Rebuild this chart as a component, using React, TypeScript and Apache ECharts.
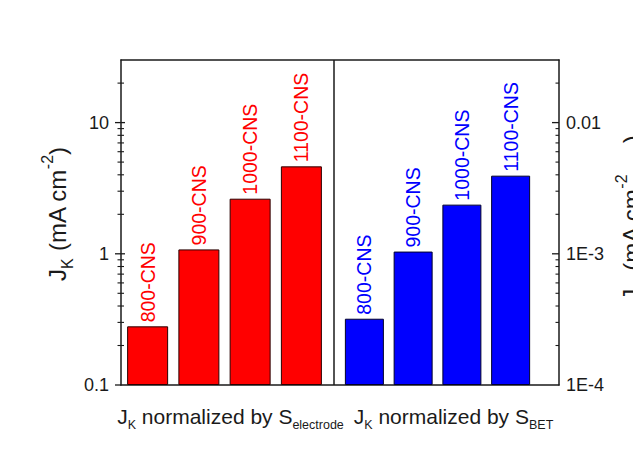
import React, { useEffect, useRef } from "react";
import * as echarts from "echarts";

// Kinetic current density of the carbon nanosheet samples
const samples = ["800-CNS", "900-CNS", "1000-CNS", "1100-CNS"];
const jkElectrode = [0.28, 1.08, 2.63, 4.64]; // mA cm^-2 (electrode area)
const jkBet = [3.2e-4, 1.04e-3, 2.37e-3, 3.94e-3]; // mA cm^-2 (BET area)
const groups = ["electrode", "BET"];
const leftRange = [0.1, 30];
const rightRange = [1e-4, 0.03];
const leftDecades = [0.1, 1, 10];
const rightDecades = [1e-4, 1e-3, 0.01];

const FONT = "'Liberation Sans', Arial, Helvetica, sans-serif";
const INK = "#1a1a1a";
const RED = "#ff0000";
const BLUE = "#0000ff";

const FRAME = { left: 121, right: 559, top: 60, bottom: 385 };
const SPLIT_X = 334;

function decadeLabel(v: number): string {
  const e = Math.round(Math.log10(v));
  const p = Math.pow(10, e);
  if (Math.abs(v - p) > p * 1e-6) return "";
  if (e >= -2) return String(Number(p.toFixed(6)));
  return "1E" + e;
}

function minorValues(decades: number[], max: number): number[] {
  const out: number[] = [];
  decades.forEach((d) => {
    for (let k = 2; k <= 9; k++) {
      const v = Number((k * d).toPrecision(6));
      if (v < max) out.push(v);
    }
  });
  return out;
}

const titleRich = {
  m: { fontSize: 24, lineHeight: 36, fontFamily: FONT, fill: INK },
  sub: { fontSize: 16, lineHeight: 16, verticalAlign: "bottom", fontFamily: FONT, fill: INK },
  sup: { fontSize: 16, lineHeight: 16, verticalAlign: "top", fontFamily: FONT, fill: INK },
};

export default function App() {
  const ref = useRef<HTMLDivElement>(null);

  useEffect(() => {
    if (!ref.current) return;
    const chart = echarts.init(ref.current, undefined, { renderer: "svg" });

    const barLabel = (color: string) => ({
      show: true,
      position: "top",
      rotate: 90,
      align: "left",
      verticalAlign: "middle",
      distance: 4,
      formatter: "{b}",
      fontSize: 19.5,
      fontFamily: FONT,
      color,
    });

    const frameAxisLine = { show: true, lineStyle: { color: INK, width: 1.5 } };

    chart.setOption({
      animation: false,
      backgroundColor: "#ffffff",
      grid: [
        {
          left: FRAME.left,
          top: FRAME.top,
          width: FRAME.right - FRAME.left,
          height: FRAME.bottom - FRAME.top,
          outerBoundsMode: "none",
        },
        { left: 122, top: FRAME.top, width: 205, height: FRAME.bottom - FRAME.top, outerBoundsMode: "none" },
        { left: 340, top: FRAME.top, width: 195, height: FRAME.bottom - FRAME.top, outerBoundsMode: "none" },
      ],
      xAxis: [
        {
          gridIndex: 0,
          type: "category",
          data: [
            { value: groups[0] },
            { value: groups[1], textStyle: { padding: [0, 0, 0, 8] } },
          ],
          position: "bottom",
          axisLine: frameAxisLine,
          axisTick: { show: false },
          axisLabel: {
            interval: 0,
            margin: 16,
            formatter: (v: string) => `{m|J}{s|K}{m| normalized by S}{s|${v}}`,
            rich: {
              m: { fontSize: 21, lineHeight: 30, color: INK, fontFamily: FONT },
              s: { fontSize: 12.5, lineHeight: 9, verticalAlign: "bottom", color: INK, fontFamily: FONT },
            },
          },
        },
        {
          gridIndex: 0,
          type: "category",
          data: groups,
          position: "top",
          axisLine: frameAxisLine,
          axisTick: { show: false },
          axisLabel: { show: false },
        },
        { gridIndex: 1, type: "category", data: samples, show: false },
        { gridIndex: 2, type: "category", data: samples, show: false },
      ],
      yAxis: [
        {
          gridIndex: 0,
          type: "log",
          logBase: 10,
          min: leftRange[0],
          max: leftRange[1],
          position: "left",
          axisLine: frameAxisLine,
          axisTick: { show: false },
          splitLine: { show: false },
          axisLabel: {
            margin: 12,
            fontSize: 18,
            color: INK,
            fontFamily: FONT,
            showMaxLabel: false,
            formatter: (v: number) => decadeLabel(v),
          },
        },
        {
          gridIndex: 0,
          type: "log",
          logBase: 10,
          min: rightRange[0],
          max: rightRange[1],
          position: "right",
          axisLine: frameAxisLine,
          axisTick: { show: false },
          splitLine: { show: false },
          axisLabel: {
            margin: 7,
            fontSize: 18,
            color: INK,
            fontFamily: FONT,
            showMaxLabel: false,
            formatter: (v: number) => decadeLabel(v),
          },
        },
        {
          gridIndex: 1,
          type: "log",
          logBase: 10,
          min: leftRange[0],
          max: leftRange[1],
          startValue: leftRange[0],
          show: false,
        },
        {
          gridIndex: 2,
          type: "log",
          logBase: 10,
          min: rightRange[0],
          max: rightRange[1],
          startValue: rightRange[0],
          show: false,
        },
      ],
      series: [
        {
          type: "bar",
          xAxisIndex: 2,
          yAxisIndex: 2,
          data: jkElectrode,
          barWidth: 41,
          itemStyle: { color: RED, borderColor: "#2a0000", borderWidth: 1 },
          label: barLabel(RED),
        },
        {
          type: "bar",
          xAxisIndex: 3,
          yAxisIndex: 3,
          data: jkBet,
          barWidth: 39,
          itemStyle: { color: BLUE, borderColor: "#00002a", borderWidth: 1 },
          label: barLabel(BLUE),
        },
      ],
    });

    // Log-axis tick marks (decades and 2..9 minors), placed through the axis scales
    const elements: any[] = [];
    const tick = (x1: number, x2: number, y: number, w: number) =>
      elements.push({
        type: "line",
        silent: true,
        shape: { x1, y1: y, x2, y2: y },
        style: { stroke: INK, lineWidth: w },
      });

    leftDecades.forEach((v) => {
      const y = chart.convertToPixel({ yAxisIndex: 0 }, v) as number;
      if (v > leftRange[0]) tick(FRAME.left - 6, FRAME.left + 4, y, 1.3);
      else tick(FRAME.left - 6, FRAME.left, y, 1.3);
    });
    minorValues(leftDecades, leftRange[1]).forEach((v) => {
      const y = chart.convertToPixel({ yAxisIndex: 0 }, v) as number;
      tick(FRAME.left - 3.5, FRAME.left + 3, y, 1.1);
    });
    rightDecades.forEach((v) => {
      if (v <= rightRange[0]) return;
      const y = chart.convertToPixel({ yAxisIndex: 1 }, v) as number;
      tick(FRAME.right - 7, FRAME.right, y, 1.3);
    });
    minorValues(rightDecades, rightRange[1]).forEach((v) => {
      const y = chart.convertToPixel({ yAxisIndex: 1 }, v) as number;
      tick(FRAME.right - 3.5, FRAME.right, y, 1.1);
    });

    // Divider between the two normalisations
    elements.push({
      type: "line",
      silent: true,
      shape: { x1: SPLIT_X, y1: FRAME.top, x2: SPLIT_X, y2: FRAME.bottom },
      style: { stroke: INK, lineWidth: 1.5 },
    });

    // Axis titles
    elements.push({
      type: "text",
      x: 57,
      y: 214,
      rotation: Math.PI / 2,
      silent: true,
      style: {
        text: "{m|J}{sub|K}{m| (mA cm}{sup|-2}{m|)}",
        rich: titleRich,
        align: "center",
        verticalAlign: "middle",
        fill: INK,
      },
    });
    elements.push({
      type: "text",
      x: 631,
      y: 218,
      rotation: Math.PI / 2,
      silent: true,
      style: {
        text: "{m|J}{sub|K}{m| (mA cm}{sup|-2}{sub|BET}{m|)}",
        rich: titleRich,
        align: "center",
        verticalAlign: "middle",
        fill: INK,
      },
    });

    chart.setOption({ graphic: elements });

    return () => chart.dispose();
  }, []);

  return (
    <div
      ref={ref}
      style={{ position: "fixed", left: 0, top: 0, width: 633, height: 452, background: "#fff" }}
    />
  );
}
